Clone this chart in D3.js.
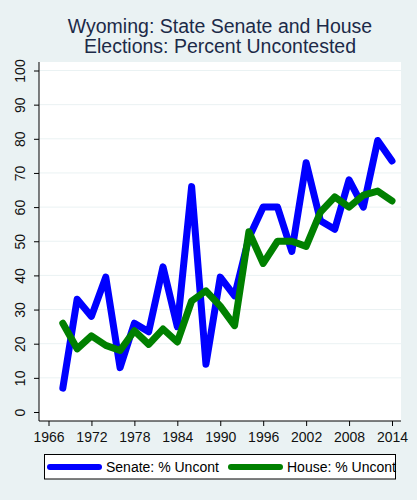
<!DOCTYPE html>
<html>
<head>
<meta charset="utf-8">
<script src="https://cdn.jsdelivr.net/npm/d3@7"></script>
<style>
  body { margin: 0; background: #eaf2f3; }
  svg { display: block; font-family: "Liberation Sans", Arial, sans-serif; }
</style>
</head>
<body>
<svg id="chart" width="417" height="500"></svg>
<script>
// values, elections every 2 years
var years = [1968, 1970, 1972, 1974, 1976, 1978, 1980, 1982, 1984, 1986, 1988, 1990,
             1992, 1994, 1996, 1998, 2000, 2002, 2004, 2006, 2008, 2010, 2012, 2014];
var senate = [7, 33, 28, 39.5, 13, 26, 23.5, 42.5, 25, 66, 14, 39.5,
              34, 51, 60, 60, 47, 73, 56, 53.5, 68, 60, 79.5, 73.5];
var house = [26, 18.5, 22.3, 19.5, 18, 23.8, 19.8, 24.3, 20.5, 32.5, 35.5, 31,
             25.3, 52.8, 43.5, 50, 50, 48.5, 58.5, 63, 60, 63.5, 64.7, 61.8];
var xTicks = [1966, 1972, 1978, 1984, 1990, 1996, 2002, 2008, 2014];
var yTicks = [0, 10, 20, 30, 40, 50, 60, 70, 80, 90, 100];
var titleLines = ["Wyoming: State Senate and House", "Elections: Percent Uncontested"];
var seriesNames = ["Senate: % Uncont", "House: % Uncont"];
var seriesColors = ["#0000ff", "#008000"];

var svg = d3.select("#chart");
var plot = {left: 39, right: 401, top: 62, bottom: 421};

var x = d3.scaleLinear().domain([1966, 2014]).range([48.5, 392]);
var y = d3.scaleLinear().domain([0, 100]).range([412, 70.5]);

svg.append("rect").attr("width", 417).attr("height", 500).attr("fill", "#eaf2f3");
svg.append("rect")
  .attr("x", plot.left).attr("y", plot.top)
  .attr("width", plot.right - plot.left).attr("height", plot.bottom - plot.top)
  .attr("fill", "#fff");

// title
svg.append("g").selectAll("text").data(titleLines).enter().append("text")
  .attr("x", 220).attr("y", function(d, i) { return 33 + i * 20; })
  .attr("text-anchor", "middle")
  .attr("font-size", 19.5)
  .attr("fill", "#1c2a48")
  .text(function(d) { return d; });

// grid
svg.append("g").selectAll("line").data(yTicks.slice(1)).enter().append("line")
  .attr("x1", plot.left).attr("x2", plot.right)
  .attr("y1", function(d) { return y(d); }).attr("y2", function(d) { return y(d); })
  .attr("stroke", "#eaf2f3").attr("stroke-width", 1);

// axes
var yAxis = d3.axisLeft(y).tickValues(yTicks).tickSize(5).tickFormat(d3.format("d"));
var gy = svg.append("g").attr("transform", "translate(" + plot.left + ",0)").call(yAxis);
gy.select(".domain").attr("d", "M0," + plot.top + "V" + plot.bottom);
// labels turned sideways, like stata does
gy.selectAll(".tick text")
  .attr("font-size", 14).attr("fill", "#111")
  .attr("transform", "rotate(-90)")
  .attr("text-anchor", "middle")
  .attr("x", 0).attr("y", -14).attr("dy", 0);

var xAxis = d3.axisBottom(x).tickValues(xTicks).tickSize(5).tickPadding(6).tickFormat(d3.format("d"));
var gx = svg.append("g").attr("transform", "translate(0," + plot.bottom + ")").call(xAxis);
gx.select(".domain").attr("d", "M" + plot.left + ",0H" + plot.right);
gx.selectAll("text").attr("font-size", 14).attr("fill", "#111");
svg.selectAll(".domain, .tick line").attr("stroke", "#000");

// lines
var line = d3.line()
  .x(function(d) { return x(d[0]); })
  .y(function(d) { return y(d[1]); });
[senate, house].forEach(function(vals, k) {
  svg.append("path")
    .datum(d3.zip(years, vals))
    .attr("d", line)
    .attr("fill", "none")
    .attr("stroke", seriesColors[k])
    .attr("stroke-width", 7)
    .attr("stroke-linejoin", "round")
    .attr("stroke-linecap", "round");
});

// legend
var lg = svg.append("g");
lg.append("rect").attr("x", 44.5).attr("y", 454.5).attr("width", 351).attr("height", 24.5)
  .attr("fill", "#fff").attr("stroke", "#000");
var legX = [50, 231];
seriesNames.forEach(function(name, k) {
  lg.append("line")
    .attr("x1", legX[k]).attr("x2", legX[k] + 49)
    .attr("y1", 467).attr("y2", 467)
    .attr("stroke", seriesColors[k]).attr("stroke-width", 6).attr("stroke-linecap", "round");
  lg.append("text")
    .attr("x", legX[k] + 56).attr("y", 472)
    .attr("font-size", 14).attr("fill", "#000")
    .text(name);
});
</script>
</body>
</html>
